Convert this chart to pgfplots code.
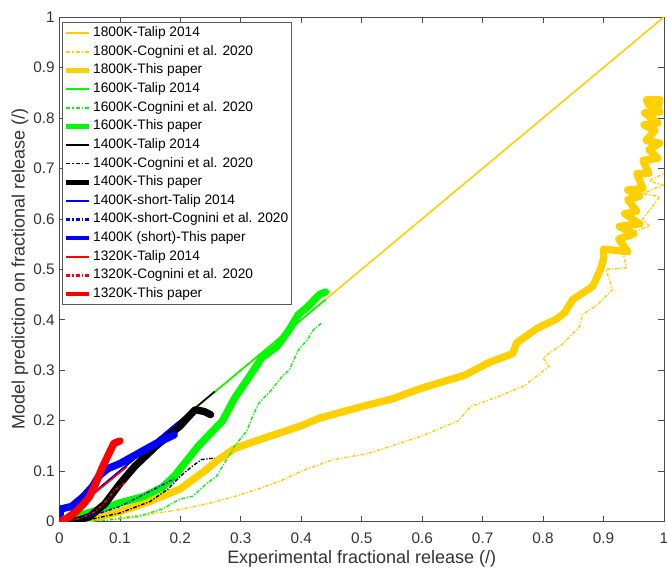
\documentclass[border=0pt]{standalone}
\usepackage{pgfplots}
\pgfplotsset{compat=1.18}
\usepackage{fontspec}
\setmainfont{Liberation Sans}
\definecolor{myyellow}{RGB}{255,208,0}
\definecolor{mygreen}{RGB}{0,250,0}
\definecolor{myblue}{RGB}{0,0,255}
\definecolor{myred}{RGB}{255,0,0}
\tikzset{
  talip/.style={line width=1.2pt},
  cog/.style={line width=1.05pt, dash pattern=on 2.8pt off 1.3pt on 0.9pt off 1.3pt},
  thick/.style={line width=5.5pt, line join=round, line cap=round},
}
\pgfplotsset{
  thickleg/.style={legend image post style={line width=3.5pt}},
}
\begin{document}
\begin{tikzpicture}
\begin{axis}[
  name=ax,
  scale only axis,
  width=453.75pt, height=378.75pt,
  xmin=0, xmax=1, ymin=0, ymax=1,
  xtick={0,0.1,0.2,0.3,0.4,0.5,0.6,0.7,0.8,0.9,1},
  ytick={0,0.1,0.2,0.3,0.4,0.5,0.6,0.7,0.8,0.9,1},
  xticklabels={0,0.1,0.2,0.3,0.4,0.5,0.6,0.7,0.8,0.9,1},
  yticklabels={0,0.1,0.2,0.3,0.4,0.5,0.6,0.7,0.8,0.9,1},
  tick align=inside,
  major tick length=4.5pt,
  every tick/.style={gray!60!black, line width=0.5pt},
  axis line style={gray!60!black, line width=0.6pt},
  tick label style={font=\fontsize{11.5}{13}\selectfont, text=black!80},
  xticklabel style={yshift=-5pt},
  label style={font=\fontsize{13.5}{15}\selectfont, text=black!80},
  /pgf/number format/assume math mode=true,
  xlabel={Experimental fractional release (/)},
  ylabel={Model prediction on fractional release (/)},
  xlabel style={at={(axis description cs:0.5,-0.074)}, anchor=center},
  ylabel style={at={(axis description cs:-0.0652,0.5)}, anchor=center},
  legend style={at={(axis description cs:0,1)}, anchor=north west, xshift=2pt, yshift=-3.75pt,
    font=\fontsize{10.3}{12}\selectfont,
    draw=gray!70!black, line width=0.5pt, inner sep=1pt, row sep=0pt,
    nodes={inner xsep=1.5pt, inner ysep=2pt, text height=7.6pt, text depth=2.4pt},
    cells={anchor=west}},
  legend image code/.code={\draw[#1, line cap=butt] (0cm,0cm) -- (0.6cm,0cm);},
  clip=true,
]
% 1800K
\addplot[myyellow, talip] coordinates {(0,0) (1,1)};
\addlegendentry{1800K-Talip 2014}
\addplot[myyellow, cog, legend image post style={myyellow, line width=1.6pt, dash pattern=on 3pt off 1.5pt on 1.2pt off 1.5pt}] coordinates {(0,0) (0.05,0.002) (0.1,0.008) (0.15,0.015) (0.2,0.024) (0.25,0.037) (0.29,0.05) (0.33,0.065) (0.37,0.083) (0.4,0.1) (0.45,0.122) (0.51,0.135) (0.55,0.15) (0.6,0.17) (0.66,0.2) (0.68,0.228) (0.72,0.245) (0.77,0.27) (0.81,0.308) (0.8,0.325) (0.83,0.35) (0.86,0.385) (0.865,0.41) (0.89,0.43) (0.915,0.46) (0.904,0.5) (0.938,0.503) (0.926,0.565) (0.976,0.585) (0.965,0.6) (0.993,0.644) (0.965,0.65) (0.998,0.667) (0.975,0.675) (1.0,0.69)};
\addlegendentry{1800K-Cognini et al. 2020}
\addplot[myyellow, thick, thickleg] coordinates {(0,0) (0.05,0.005) (0.1,0.02) (0.15,0.04) (0.2,0.065) (0.24,0.1) (0.26,0.12) (0.29,0.145) (0.33,0.162) (0.4,0.19) (0.43,0.205) (0.5,0.228) (0.55,0.243) (0.6,0.265) (0.67,0.29) (0.71,0.315) (0.75,0.333) (0.756,0.354) (0.79,0.383) (0.82,0.4) (0.835,0.413) (0.849,0.44) (0.882,0.466) (0.895,0.5) (0.9,0.52) (0.9,0.54) (0.94,0.535) (0.925,0.56) (0.95,0.57) (0.926,0.585) (0.96,0.59) (0.935,0.61) (0.955,0.615) (0.94,0.638) (0.96,0.645) (0.94,0.657) (0.965,0.66) (0.955,0.69) (0.975,0.69) (0.965,0.716) (0.99,0.72) (0.975,0.737) (0.993,0.75) (0.97,0.755) (0.985,0.775) (0.967,0.786) (0.99,0.79) (0.968,0.81) (0.993,0.812) (0.975,0.825) (0.971,0.836) (0.993,0.836) (0.99,0.82)};
\addlegendentry{1800K-This paper}
% 1600K
\addplot[mygreen, talip] coordinates {(0,0) (0.44,0.44)};
\addlegendentry{1600K-Talip 2014}
\addplot[mygreen, cog, legend image post style={mygreen, line width=1.6pt, dash pattern=on 3pt off 1.5pt on 1.2pt off 1.5pt}] coordinates {(0,0) (0.08,0.003) (0.13,0.01) (0.17,0.025) (0.2,0.045) (0.22,0.05) (0.245,0.077) (0.26,0.09) (0.275,0.12) (0.29,0.15) (0.31,0.18) (0.32,0.21) (0.33,0.235) (0.35,0.26) (0.37,0.29) (0.38,0.3) (0.395,0.34) (0.41,0.36) (0.42,0.38) (0.435,0.395)};
\addlegendentry{1600K-Cognini et al. 2020}
\addplot[mygreen, thick, thickleg] coordinates {(0,0) (0.02,0.005) (0.04,0.015) (0.07,0.025) (0.1,0.037) (0.14,0.05) (0.17,0.068) (0.19,0.09) (0.21,0.12) (0.23,0.15) (0.25,0.175) (0.27,0.2) (0.29,0.245) (0.31,0.28) (0.335,0.325) (0.36,0.347) (0.38,0.38) (0.395,0.41) (0.41,0.425) (0.43,0.45) (0.44,0.455)};
\addlegendentry{1600K-This paper}
% 1400K
\addplot[black, talip] coordinates {(0,0) (0.257,0.258)};
\addlegendentry{1400K-Talip 2014}
\addplot[black, cog, legend image post style={black, line width=1.3pt, dash pattern=on 3pt off 1.5pt on 1.2pt off 1.5pt}] coordinates {(0,0) (0.05,0.004) (0.1,0.017) (0.15,0.04) (0.18,0.065) (0.2,0.09) (0.22,0.11) (0.235,0.123) (0.257,0.126)};
\addlegendentry{1400K-Cognini et al. 2020}
\addplot[black, thick, thickleg] coordinates {(0,0) (0.03,0.002) (0.05,0.01) (0.075,0.035) (0.1,0.075) (0.125,0.11) (0.16,0.15) (0.2,0.19) (0.215,0.21) (0.225,0.222) (0.24,0.218) (0.25,0.212)};
\addlegendentry{1400K-This paper}
% 1400K short
\addplot[myblue, talip] coordinates {(0,0) (0.194,0.195)};
\addlegendentry{1400K-short-Talip 2014}
\addplot[myblue, cog, legend image post style={myblue, line width=1.6pt, dash pattern=on 3pt off 1.5pt on 1.2pt off 1.5pt}] coordinates {(0,0) (0.05,0.01) (0.1,0.03) (0.15,0.06) (0.19,0.085)};
\addlegendentry{1400K-short-Cognini et al. 2020}
\addplot[myblue, thick, thickleg] coordinates {(0,0) (0.002,0.025) (0.02,0.03) (0.04,0.05) (0.055,0.07) (0.065,0.09) (0.08,0.105) (0.1,0.115) (0.13,0.135) (0.16,0.155) (0.19,0.172)};
\addlegendentry{1400K (short)-This paper}
% 1320K
\addplot[myred, talip] coordinates {(0,0) (0.112,0.109)};
\addlegendentry{1320K-Talip 2014}
\addplot[myred, cog, legend image post style={myred, line width=1.6pt, dash pattern=on 3pt off 1.5pt on 1.2pt off 1.5pt}] coordinates {(0,0) (0.03,0.005) (0.06,0.02) (0.08,0.045) (0.09,0.06) (0.1,0.07) (0.11,0.078)};
\addlegendentry{1320K-Cognini et al. 2020}
\addplot[myred, thick, thickleg] coordinates {(0,0) (0.01,0.005) (0.025,0.017) (0.04,0.035) (0.05,0.05) (0.06,0.075) (0.07,0.105) (0.08,0.13) (0.09,0.155) (0.1,0.16)};
\addlegendentry{1320K-This paper}
\end{axis}
\pgfresetboundingbox
\useasboundingbox ([xshift=-44.6pt,yshift=-34.5pt]ax.south west) rectangle ([xshift=2.25pt,yshift=12.75pt]ax.north east);
\end{tikzpicture}
\end{document}
